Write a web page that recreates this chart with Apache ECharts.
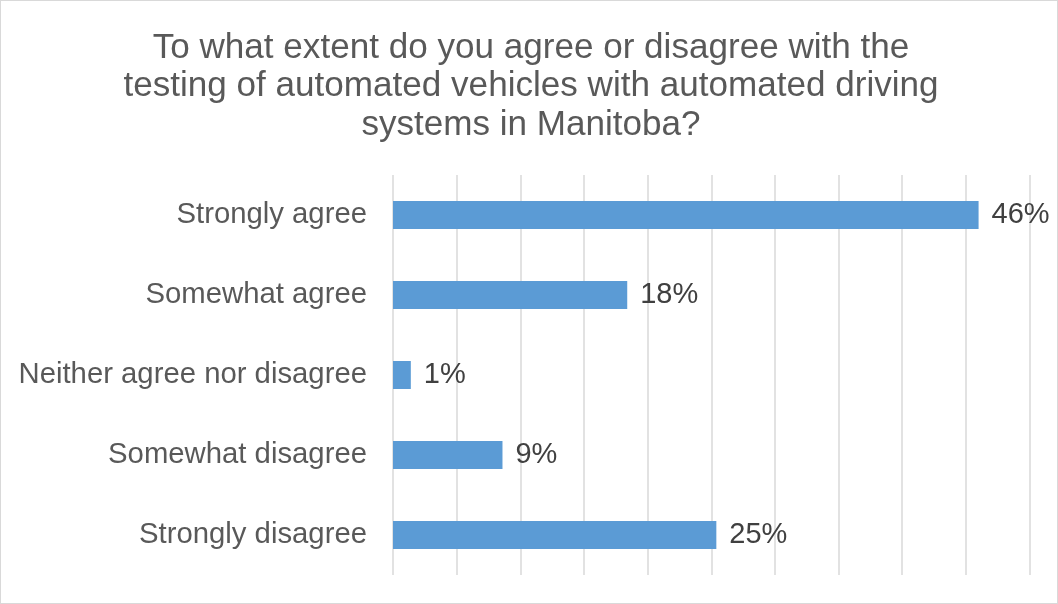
<!DOCTYPE html>
<html>
<head>
<meta charset="utf-8">
<script src="https://cdn.jsdelivr.net/npm/echarts@6/dist/echarts.min.js"></script>
<style>
html,body{margin:0;padding:0;background:#fff;}
#frame{width:1058px;height:604px;box-sizing:border-box;border:1px solid #d9d9d9;position:relative;}
#chart{position:absolute;left:-1px;top:-1px;width:1058px;height:604px;}
</style>
</head>
<body>
<div id="frame"><div id="chart"></div></div>
<script>
const titleText = "To what extent do you agree or disagree with the\ntesting of automated vehicles with automated driving\nsystems in Manitoba?";
const categories = ["Strongly agree", "Somewhat agree", "Neither agree nor disagree", "Somewhat disagree", "Strongly disagree"];
const values = [46.0, 18.4, 1.4, 8.6, 25.4];
const axisMin = 0, axisMax = 50, axisStep = 5;

const FONT = '"Liberation Sans", Arial, sans-serif';
const chart = echarts.init(document.getElementById('chart'), null, {renderer: 'canvas'});
chart.setOption({
  animation: false,
  backgroundColor: 'transparent',
  title: {
    text: titleText,
    left: 526,
    top: 24,
    textAlign: 'center',
    textStyle: {fontFamily: FONT, fontSize: 35.1, fontWeight: 'normal', color: '#595959', lineHeight: 38.5, align: 'center'}
  },
  grid: {left: 393, right: 28.5, top: 175, bottom: 29, containLabel: false},
  xAxis: {
    type: 'value', min: axisMin, max: axisMax, interval: axisStep,
    axisLabel: {show: false}, axisLine: {show: false}, axisTick: {show: false},
    splitLine: {show: true, lineStyle: {color: '#d9d9d9', width: 1.5}}
  },
  yAxis: {
    type: 'category', data: categories, inverse: true,
    axisLine: {show: false}, axisTick: {show: false},
    axisLabel: {fontFamily: FONT, fontSize: 29.3, color: '#595959', margin: 26}
  },
  series: [{
    type: 'bar', data: values, barWidth: '35%',
    itemStyle: {color: '#5b9bd5'},
    label: {
      show: true, position: 'right', distance: 13,
      fontFamily: FONT, fontSize: 29, color: '#404040',
      formatter: p => Math.round(p.value) + '%'
    }
  }]
});
</script>
</body>
</html>
